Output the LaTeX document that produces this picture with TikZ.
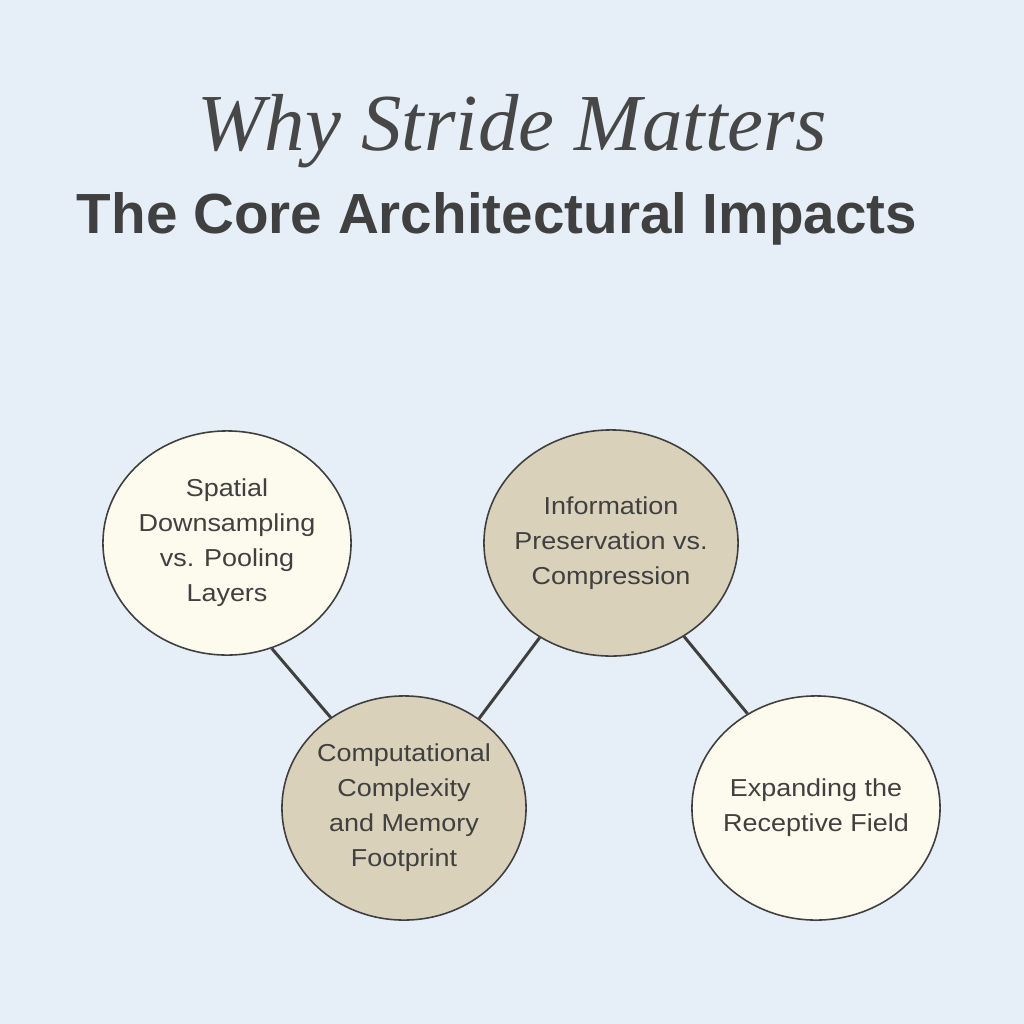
\documentclass[tikz,border=0pt]{standalone}
\usepackage{fontspec}
\usepackage{xcolor}
\setmainfont{Liberation Sans}
\newfontfamily\titlefont{Liberation Serif}
\newfontfamily\bubblefont[FakeStretch=1.1]{Liberation Sans}
\usetikzlibrary{shapes.geometric}
\definecolor{bgblue}{HTML}{E6EFF7}
\definecolor{creamfill}{HTML}{FDFAEE}
\definecolor{tanfill}{HTML}{DAD1BB}
\definecolor{edgegray}{HTML}{3F3F3F}
\definecolor{inkgray}{HTML}{404040}
\definecolor{titlegray}{HTML}{474747}

\begin{document}
\begin{tikzpicture}[x=0.01cm, y=-0.01cm,
  bubble/.style={ellipse, draw=edgegray, line width=0.45pt, inner sep=0pt},
  bubbletext/.style={align=center, text=inkgray, inner sep=0pt,
    font=\bubblefont\fontsize{6.97}{9.96}\selectfont},
  link/.style={draw=edgegray, line width=0.85pt}]
  \fill[bgblue] (0,0) rectangle (1024,1024);
  \useasboundingbox (0,0) rectangle (1024,1024);
  \node[font=\titlefont\itshape\fontsize{23}{27}\selectfont, text=titlegray, anchor=base] (title) at (512,150) {Why Stride Matters};
  \node[font=\bfseries\fontsize{16.1}{19}\selectfont, text=inkgray, anchor=base] (subtitle) at (497,233) {The Core Architectural Impacts};
  \node[bubble, fill=creamfill, minimum width=2.48cm, minimum height=2.24cm] (spatial) at (227,543) {};
  \node[bubble, fill=tanfill, minimum width=2.54cm, minimum height=2.26cm] (inform) at (611,543) {};
  \node[bubble, fill=tanfill, minimum width=2.44cm, minimum height=2.24cm] (compute) at (404,808) {};
  \node[bubble, fill=creamfill, minimum width=2.48cm, minimum height=2.24cm] (receptive) at (816,808) {};
  \node[bubbletext] (spatialtxt) at (spatial) {Spatial\\Downsampling\\vs. Pooling\\Layers};
  \node[bubbletext] (informtxt) at (inform) {Information\\Preservation vs.\\Compression};
  \node[bubbletext] (computetxt) at (compute) {Computational\\Complexity\\and Memory\\Footprint};
  \node[bubbletext] (receptivetxt) at (receptive) {Expanding the\\Receptive Field};
  \draw[link] (spatial.-67) -- (compute.129.5);
  \draw[link] (inform.-127.2) -- (compute.50.5);
  \draw[link] (inform.-52.8) -- (receptive.126.4);
\end{tikzpicture}
\end{document}
